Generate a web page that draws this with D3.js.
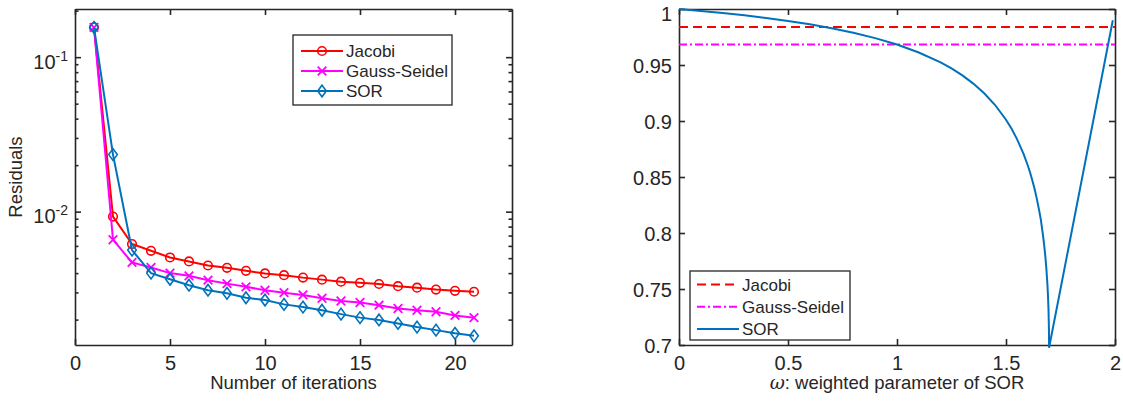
<!DOCTYPE html>
<html>
<head>
<meta charset="utf-8">
<script src="https://cdn.jsdelivr.net/npm/d3@7"></script>
<style>
  body { margin: 0; background: #fff; }
  text { font-family: "Liberation Sans", Arial, Helvetica, sans-serif; fill: #262626; }
</style>
</head>
<body>
<script>
// venstre figur: residualer pr. iteration
const iterations = [1,2,3,4,5,6,7,8,9,10,11,12,13,14,15,16,17,18,19,20,21];
const jacobiRes = [0.156,0.00929,0.00617,0.00558,0.00505,0.00476,0.00448,0.00433,0.00414,0.00398,0.00388,0.00374,0.00363,0.00352,0.00346,0.00340,0.00329,0.00322,0.00313,0.00307,0.00303];
const gaussRes  = [0.156,0.00658,0.00469,0.00435,0.00400,0.00384,0.00360,0.00342,0.00326,0.00310,0.00299,0.00289,0.00275,0.00264,0.00258,0.00248,0.00236,0.00230,0.00225,0.00213,0.00206];
const sorRes    = [0.156,0.0234,0.00564,0.00400,0.00365,0.00334,0.00310,0.00296,0.00277,0.00268,0.00251,0.00241,0.00230,0.00217,0.00206,0.00199,0.00189,0.00179,0.00171,0.00163,0.00157];
const xTicksLeft = [0,5,10,15,20];
const yMajorLeft = [0.01,0.1];
const yMinorLeft = [0.002,0.003,0.004,0.005,0.006,0.007,0.008,0.009,0.02,0.03,0.04,0.05,0.06,0.07,0.08,0.09,0.2];

// højre figur: spektralradius som funktion af omega
const omega  = [0,0.1,0.2,0.3,0.4,0.5,0.6,0.7,0.8,0.9,1.0,1.1,1.2,1.25,1.3,1.35,1.4,1.45,1.5,1.525,1.55,1.58,1.6,1.61,1.62,1.63,1.64,1.65,1.66,1.67,1.675,1.68,1.685,1.69,1.693,1.695,1.697,1.6975,1.99];
const sorRho = [1,0.99832,0.99645,0.99437,0.99203,0.98938,0.98636,0.98288,0.97882,0.97402,0.96826,0.96119,0.95229,0.94689,0.94068,0.93341,0.92477,0.91427,0.90115,0.89323,0.88407,0.87086,0.86026,0.85421,0.84755,0.84014,0.83179,0.82223,0.81168,0.79745,0.78934,0.77994,0.76862,0.75403,0.74221,0.73152,0.71373,0.6975,0.99];
const jacobiRho = [0.984,0.984];
const gaussRho  = [0.9683,0.9683];
const omegaEnds = [0,2];
const xTicksRight = [0,0.5,1,1.5,2];
const yTicksRight = [0.7,0.75,0.8,0.85,0.9,0.95,1];

const red = "#ff0000", magenta = "#ff00ff", blue = "#0072bd", ink = "#262626";

const svg = d3.select("body").append("svg")
  .attr("width", 1123)
  .attr("height", 401);

svg.append("rect").attr("width", 1123).attr("height", 401).attr("fill", "#fff");

// akseboks med indvendige ticks på alle fire sider
function boxAxes(x, y, xticks, yticks, yfmt) {
  const g = svg.append("g");
  const [x0, x1] = x.range();
  const [y1, y0] = y.range();
  g.append("g").attr("transform", `translate(0,${y1})`)
    .call(d3.axisBottom(x).tickValues(xticks).tickSizeInner(-6).tickSizeOuter(0).tickPadding(11).tickFormat(d3.format("")));
  g.append("g").attr("transform", `translate(0,${y0})`)
    .call(d3.axisTop(x).tickValues(xticks).tickSizeInner(-6).tickSizeOuter(0).tickFormat(""));
  const left = g.append("g").attr("transform", `translate(${x0},0)`)
    .call(d3.axisLeft(y).tickValues(yticks).tickSizeInner(-6).tickSizeOuter(0).tickPadding(7).tickFormat(yfmt));
  g.append("g").attr("transform", `translate(${x1},0)`)
    .call(d3.axisRight(y).tickValues(yticks).tickSizeInner(-6).tickSizeOuter(0).tickFormat(""));
  g.selectAll(".domain, .tick line").attr("stroke", ink).attr("stroke-width", 1.6);
  g.selectAll(".tick text").attr("font-size", 20).attr("fill", ink)
    .style("font-family", '"Liberation Sans", Arial, sans-serif');
  return left;
}

//---- venstre akser
const xL = d3.scaleLinear().domain([0,23]).range([75,512]);
const yL = d3.scaleLog().domain([0.00137,0.205]).range([345,9]);

const leftAxis = boxAxes(xL, yL, xTicksLeft, yMajorLeft, () => "");
// log-etiketter med eksponent
leftAxis.selectAll(".tick text")
  .attr("dy", null)
  .each(function(d) {
    const t = d3.select(this).text("");
    t.append("tspan").attr("dy", 11).text("10");
    t.append("tspan").attr("dy", -8).attr("font-size", 14).text(Math.round(Math.log10(d)));
  });
// minor ticks
svg.append("g").attr("transform", "translate(75,0)")
  .call(d3.axisRight(yL).tickValues(yMinorLeft).tickSize(3.5).tickFormat(""))
  .call(g => g.select(".domain").remove());
svg.append("g").attr("transform", "translate(512,0)")
  .call(d3.axisLeft(yL).tickValues(yMinorLeft).tickSize(3.5).tickFormat(""))
  .call(g => g.select(".domain").remove());
svg.selectAll(".tick line").attr("stroke", ink).attr("stroke-width", 1.6);

const lineL = d3.line().x((d, i) => xL(iterations[i])).y(d => yL(d));

function drawMarker(sel, marker, color) {
  if (marker === "o") {
    sel.append("circle").attr("r", 4.3).attr("fill", "none").attr("stroke", color).attr("stroke-width", 1.6);
  } else if (marker === "x") {
    sel.append("path").attr("d", "M-4.3,-4.3L4.3,4.3M-4.3,4.3L4.3,-4.3")
      .attr("stroke", color).attr("stroke-width", 1.8);
  } else {
    sel.append("path").attr("d", "M0,-5.8L4.3,0L0,5.8L-4.3,0Z")
      .attr("fill", "none").attr("stroke", color).attr("stroke-width", 1.6);
  }
}

function series(vals, color, marker) {
  svg.append("path").datum(vals).attr("d", lineL)
    .attr("fill", "none").attr("stroke", color).attr("stroke-width", 2);
  const m = svg.append("g").selectAll("g").data(vals).join("g")
    .attr("transform", (d, i) => `translate(${xL(iterations[i])},${yL(d)})`);
  drawMarker(m, marker, color);
}

series(jacobiRes, red, "o");
series(gaussRes, magenta, "x");
series(sorRes, blue, "d");

svg.append("text").attr("x", xL(11.5)).attr("y", 389).attr("text-anchor", "middle")
  .attr("font-size", 18.5).text("Number of iterations");
svg.append("text").attr("transform", `translate(22,${(9+345)/2}) rotate(-90)`)
  .attr("text-anchor", "middle").attr("font-size", 18.5).text("Residuals");

// legend venstre
const legL = svg.append("g");
legL.append("rect").attr("x", 293).attr("y", 35).attr("width", 159).attr("height", 70)
  .attr("fill", "#fff").attr("stroke", ink).attr("stroke-width", 1.3);
[["Jacobi", red, "o"], ["Gauss-Seidel", magenta, "x"], ["SOR", blue, "d"]].forEach((e, i) => {
  const yy = 51 + i * 20;
  legL.append("line").attr("x1", 301).attr("x2", 343).attr("y1", yy).attr("y2", yy)
    .attr("stroke", e[1]).attr("stroke-width", 2);
  drawMarker(legL.append("g").attr("transform", `translate(322,${yy})`), e[2], e[1]);
  legL.append("text").attr("x", 346).attr("y", yy).attr("dy", "0.36em")
    .attr("font-size", 17).text(e[0]);
});

//---- højre akser
const xR = d3.scaleLinear().domain([0,2]).range([679,1115]);
const yR = d3.scaleLinear().domain([0.7,1]).range([345,9]);
const rightAxis = boxAxes(xR, yR, xTicksRight, yTicksRight, d3.format(""));
rightAxis.selectAll(".tick text").attr("dy", d => d === 1 ? "0.55em" : "0.38em");

const lineR = d3.line().x((d, i) => xR(omegaEnds[i])).y(d => yR(d));
svg.append("path").datum(jacobiRho).attr("d", lineR).attr("fill", "none")
  .attr("stroke", red).attr("stroke-width", 2).attr("stroke-dasharray", "9,5");
svg.append("path").datum(gaussRho).attr("d", lineR).attr("fill", "none")
  .attr("stroke", magenta).attr("stroke-width", 2).attr("stroke-dasharray", "8,3,2,3");
svg.append("path").datum(sorRho)
  .attr("d", d3.line().x((d, i) => xR(omega[i])).y(d => yR(d)))
  .attr("fill", "none").attr("stroke", blue).attr("stroke-width", 2)
  .attr("stroke-miterlimit", 10);

const xlab = svg.append("text").attr("x", xR(1)).attr("y", 389).attr("text-anchor", "middle")
  .attr("font-size", 18.5);
xlab.append("tspan").attr("font-style", "italic").style("font-family", '"DejaVu Serif", serif').text("ω");
xlab.append("tspan").text(": weighted parameter of SOR");

// legend højre
const legR = svg.append("g");
legR.append("rect").attr("x", 690).attr("y", 271).attr("width", 160).attr("height", 69)
  .attr("fill", "#fff").attr("stroke", ink).attr("stroke-width", 1.3);
[["Jacobi", red, "9,5"], ["Gauss-Seidel", magenta, "8,3,2,3"], ["SOR", blue, null]].forEach((e, i) => {
  const yy = 284.5 + i * 22.3;
  legR.append("line").attr("x1", 697).attr("x2", 739).attr("y1", yy).attr("y2", yy)
    .attr("stroke", e[1]).attr("stroke-width", 2).attr("stroke-dasharray", e[2]);
  legR.append("text").attr("x", 742).attr("y", yy).attr("dy", "0.36em")
    .attr("font-size", 17).text(e[0]);
});
</script>
</body>
</html>
